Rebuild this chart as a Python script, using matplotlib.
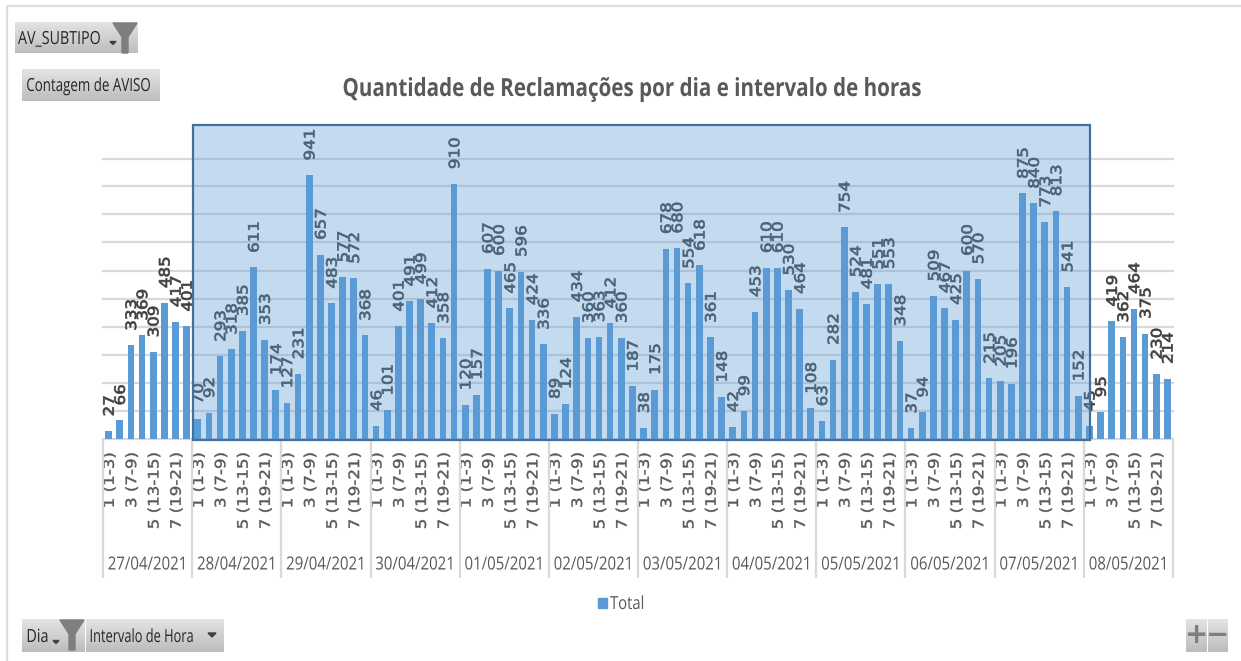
import numpy as np
import matplotlib
matplotlib.use("Agg")
import matplotlib.pyplot as plt
import matplotlib.patheffects as pe
from matplotlib.patches import Rectangle, Polygon
from matplotlib.transforms import Affine2D

dias = ["27/04/2021", "28/04/2021", "29/04/2021", "30/04/2021", "01/05/2021", "02/05/2021",
        "03/05/2021", "04/05/2021", "05/05/2021", "06/05/2021", "07/05/2021", "08/05/2021"]
intervalos = ["1 (1-3)", "3 (7-9)", "5 (13-15)", "7 (19-21)"]
total = [27, 66, 333, 369, 309, 485, 417, 401,
         70, 92, 293, 318, 385, 611, 353, 174,
         127, 231, 941, 657, 483, 577, 572, 368,
         46, 101, 401, 491, 499, 412, 358, 910,
         120, 157, 607, 600, 465, 596, 424, 336,
         89, 124, 434, 360, 363, 412, 360, 187,
         38, 175, 678, 680, 554, 618, 361, 148,
         42, 99, 453, 610, 610, 530, 464, 108,
         63, 282, 754, 524, 481, 551, 553, 348,
         37, 94, 509, 467, 425, 600, 570, 215,
         205, 196, 875, 840, 773, 813, 541, 152,
         45, 95, 419, 362, 464, 375, 230, 214]

W, H = 1241, 661
AZUL = "#5B9BD5"
CINZA = "#D9D9D9"
TEXTO = "#595959"
FONTE = "Open Sans"


# o texto original e condensado na horizontal, sem fonte narrow instalada
class Aperta(pe.AbstractPathEffect):
    def __init__(self, sx, ancora="centro", dx=0, traco=0.0):
        super().__init__()
        self.sx = sx
        self.ancora = ancora
        self.dx = dx
        self.traco = traco

    def draw_path(self, renderer, gc, tpath, affine, rgbFace=None):
        ext = tpath.get_extents(affine)
        x0 = ext.x0 if self.ancora == "esq" else (ext.x0 + ext.x1) / 2
        novo = affine + Affine2D().translate(-x0, 0).scale(self.sx, 1).translate(x0 + self.dx, 0)
        gc.set_linewidth(self.traco)
        renderer.draw_path(gc, tpath, novo, rgbFace)


fig = plt.figure(figsize=(W / 100, H / 100), dpi=100)
ax = fig.add_axes([103 / W, (H - 438.5) / H, 1070 / W, 280 / H])

x = np.arange(len(total))
bars = ax.bar(x, total, width=0.6, color=AZUL, zorder=3)
rotulos = ax.bar_label(bars, padding=10.5, rotation=90, fontsize=12, color="#404040", family="DejaVu Sans", zorder=4)
for t in rotulos:
    t.set_path_effects([Aperta(0.86, dx=1, traco=0.5)])

ax.set_xlim(-0.5, 95.5)
ax.set_ylim(0, 1000)
ax.set_yticks(np.arange(100, 1001, 100))
ax.tick_params(axis="y", length=0, labelleft=False)
ax.grid(axis="y", color=CINZA, linewidth=1.6, zorder=0)
for g in ax.get_ygridlines():
    g.set_clip_on(False)
for s in ["top", "left", "right"]:
    ax.spines[s].set_visible(False)
ax.spines["bottom"].set_color(CINZA)
ax.spines["bottom"].set_linewidth(1.6)

# dois niveis do eixo: intervalo de hora e dia
ax.set_xticks(x[::2])
ax.set_xticklabels(intervalos * len(dias), rotation=90, fontsize=12, color=TEXTO, family="DejaVu Sans")
ax.tick_params(axis="x", which="major", length=0, pad=10)
for t in ax.get_xticklabels():
    t.set_path_effects([Aperta(0.86, dx=1, traco=0.3)])
ax.set_xticks(np.arange(-0.5, 96, 8), minor=True)
ax.tick_params(axis="x", which="minor", length=100, width=1.6, color=CINZA)
for i, dia in enumerate(dias):
    t = ax.text(3.5 + 8 * i, -0.45, dia, transform=ax.get_xaxis_transform(), ha="center", va="center",
                fontsize=13, color=TEXTO, family=FONTE)
    t.set_path_effects([Aperta(0.83)])

# camada em pixels: selecao, botoes, titulo, legenda
top = fig.add_axes([0, 0, 1, 1], zorder=5)
top.patch.set_alpha(0)
top.axis("off")


def botao(x0, y0, x1, y1):
    grad = np.linspace(0.89, 0.74, 32).reshape(-1, 1)
    top.imshow(grad, extent=(x0, x1, y1, y0), cmap="gray", vmin=0, vmax=1, aspect="auto", zorder=1)


def funil(x0, y0, larg=24, alt=30):
    meio = x0 + larg / 2
    top.add_patch(Polygon([(x0, y0), (x0 + larg, y0), (meio + 3, y0 + alt * 0.47), (meio + 3, y0 + alt),
                           (meio - 3, y0 + alt), (meio - 3, y0 + alt * 0.47)], color="#7F7F7F", zorder=2))


def seta(cx, cy, r=4):
    top.add_patch(Polygon([(cx - r, cy - r / 2), (cx + r, cy - r / 2), (cx, cy + r / 2)], color="#404040", zorder=2))


def legenda(x0, y0, s, sx, cor="#262626"):
    t = top.text(x0, y0, s, fontsize=13, color=cor, va="center", family=FONTE, zorder=3)
    t.set_path_effects([Aperta(sx, "esq")])


botao(15, 22, 138, 53)
botao(22, 69, 160, 101)
botao(22, 619, 85, 652)
botao(86, 619, 224, 652)
botao(1186, 619, 1207, 652)
botao(1208, 619, 1228, 652)
funil(113, 23)
funil(60, 620)
seta(113, 43, 3)
seta(56, 642, 3)
seta(212, 635)

legenda(18, 39, "AV_SUBTIPO", 0.79)
legenda(26, 86, "Contagem de AVISO", 0.74)
legenda(26, 637, "Dia", 0.8)
legenda(89, 637, "Intervalo de Hora", 0.71)
top.text(1196.5, 635, "+", fontsize=20, fontweight="bold", color="#7F7F7F", ha="center", va="center", zorder=3)
top.text(1218, 635, "\u2212", fontsize=20, fontweight="bold", color="#7F7F7F", ha="center", va="center", zorder=3)

titulo = top.text(633, 89.5, "Quantidade de Reclama\u00e7\u00f5es por dia e intervalo de horas", fontsize=18,
                  fontweight="bold", color=TEXTO, ha="center", va="center", family=FONTE)
titulo.set_path_effects([Aperta(0.824)])

top.add_patch(Rectangle((598, 598), 9, 10, color=AZUL))
legenda(610, 604, "Total", 0.82, TEXTO)

# moldura da planilha
top.plot([7, 7, 1241], [661, 6, 6], color="#DDDDDD", linewidth=1.6)

# selecao por cima de tudo
top.add_patch(Rectangle((192.5, 125), 897.5, 315, facecolor=(0x5B / 255, 0x9B / 255, 0xD5 / 255, 0.366),
                        edgecolor="#41719C", linewidth=1.6, zorder=6))

top.set_xlim(0, W)
top.set_ylim(H, 0)

fig.savefig("out.png", dpi=100)
